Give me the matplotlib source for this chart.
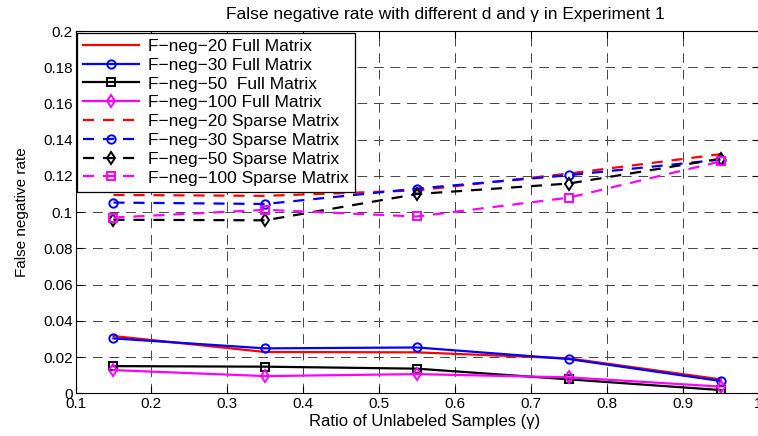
import matplotlib
matplotlib.use("Agg")
import matplotlib.pyplot as plt

plt.rcParams["font.family"] = ["Liberation Sans", "DejaVu Sans"]

GAMMA = [0.15, 0.35, 0.55, 0.75, 0.95]

FULL_20 = [0.0316, 0.0228, 0.0226, 0.0193, 0.0077]
FULL_30 = [0.0303, 0.0248, 0.0253, 0.0189, 0.0068]
FULL_50 = [0.0150, 0.0147, 0.0136, 0.0077, 0.0018]
FULL_100 = [0.0128, 0.0095, 0.0106, 0.0088, 0.0037]

SPARSE_20 = [0.1095, 0.1090, 0.1120, 0.1213, 0.1320]
SPARSE_30 = [0.1053, 0.1045, 0.1130, 0.1204, 0.1290]
SPARSE_50 = [0.0958, 0.0955, 0.1100, 0.1158, 0.1295]
SPARSE_100 = [0.0970, 0.1013, 0.0976, 0.1080, 0.1280]

X_TICKS = [0.1, 0.2, 0.3, 0.4, 0.5, 0.6, 0.7, 0.8, 0.9, 1.0]
X_TICK_LABELS = ["0.1", "0.2", "0.3", "0.4", "0.5", "0.6", "0.7", "0.8", "0.9", "1"]
Y_TICKS = [0, 0.02, 0.04, 0.06, 0.08, 0.1, 0.12, 0.14, 0.16, 0.18, 0.2]
Y_TICK_LABELS = ["0", "0.02", "0.04", "0.06", "0.08", "0.1", "0.12", "0.14", "0.16", "0.18", "0.2"]

SERIES = [
    ("F\u2212neg\u221220 Full Matrix", FULL_20, "#FF0000", "-", None),
    ("F\u2212neg\u221230 Full Matrix", FULL_30, "#0000FF", "-", "o"),
    ("F\u2212neg\u221250  Full Matrix", FULL_50, "#000000", "-", "s"),
    ("F\u2212neg\u2212100 Full Matrix", FULL_100, "#FF00FF", "-", "d"),
    ("F\u2212neg\u221220 Sparse Matrix", SPARSE_20, "#FF0000", "--", None),
    ("F\u2212neg\u221230 Sparse Matrix", SPARSE_30, "#0000FF", "--", "o"),
    ("F\u2212neg\u221250 Sparse Matrix", SPARSE_50, "#000000", "--", "d"),
    ("F\u2212neg\u2212100 Sparse Matrix", SPARSE_100, "#FF00FF", "--", "s"),
]

W, H = 758, 436
fig = plt.figure(figsize=(W / 100, H / 100), dpi=100)
# axes box in pixels: left 75.5, right 758.5, top 31, bottom 393.3
ax = fig.add_axes([75.5 / W, 1 - 393.3 / H, 683 / W, 362.3 / H])

for label, values, color, style, marker in SERIES:
    kw = {"dashes": (5, 4)} if style == "--" else {}
    ax.plot(
        GAMMA,
        values,
        color=color,
        linestyle=style,
        linewidth=1.6,
        marker=marker,
        markersize=6,
        markerfacecolor="none",
        markeredgewidth=1.4,
        label=label,
        **kw,
    )

ax.set_xlim(0.1, 1.0)
ax.set_ylim(0, 0.2)
ax.set_xticks(X_TICKS)
ax.set_xticklabels(X_TICK_LABELS)
ax.set_yticks(Y_TICKS)
ax.set_yticklabels(Y_TICK_LABELS)
ax.tick_params(direction="in", labelsize=11, length=5, top=True, right=True)
ax.tick_params(axis="x", pad=3)
ax.tick_params(axis="y", pad=2)
ax.grid(True, color="#444444", linestyle=(0, (10, 7)), linewidth=0.7)
ax.set_axisbelow(True)

ax.set_xlabel("Ratio of Unlabeled Samples (\u03b3)", fontsize=12)
ax.xaxis.set_label_coords((425 - 75.5) / 683, -0.056)
ax.set_ylabel("False negative rate", fontsize=11)
ax.yaxis.set_label_coords((29 - 75.5) / 683, 0.5)
fig.text(
    445 / W,
    1 - 14 / H,
    "False negative rate with different d and \u03b3 in Experiment 1",
    fontsize=12.5,
    ha="center",
    va="center",
)

leg = ax.legend(
    loc="upper left",
    bbox_to_anchor=(0.0, 1.0),
    fontsize=12.5,
    handlelength=3.2,
    handletextpad=0.5,
    labelspacing=0.21,
    borderpad=0.35,
    borderaxespad=0.1,
    fancybox=False,
    framealpha=1,
    edgecolor="black",
)
leg.get_frame().set_linewidth(0.9)

fig.savefig("out.png", dpi=100)
